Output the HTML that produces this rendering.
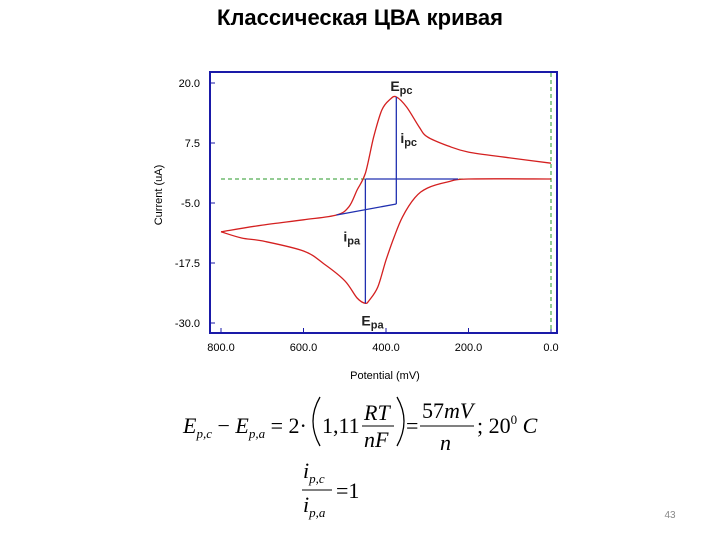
<!DOCTYPE html>
<html><head><meta charset="utf-8"><style>
body{margin:0;background:#fff;width:720px;height:540px;overflow:hidden;font-family:"Liberation Sans","Noto Sans CJK SC",sans-serif}
svg{position:absolute;left:0;top:0}
</style></head><body>
<svg id="chart" width="720" height="540">
<text x="360" y="25" text-anchor="middle" font-size="22" font-weight="bold">Классическая ЦВА кривая</text>
<rect x="210" y="72" width="347" height="261" fill="#fff" stroke="#1a1aa8" stroke-width="2"/>
<g id="ticks"></g>
<g id="marks"></g>
<text transform="translate(162,195) rotate(-90)" text-anchor="middle" font-size="11">Current (uA)</text>
<text x="385" y="379" text-anchor="middle" font-size="11">Potential (mV)</text>
<g font-family="Liberation Serif,serif" font-size="22">
<text x="183" y="433"><tspan font-style="italic">E</tspan><tspan font-size="13" dy="5" font-style="italic">p,c</tspan><tspan dy="-5"> − </tspan><tspan font-style="italic">E</tspan><tspan font-size="13" dy="5" font-style="italic">p,a</tspan><tspan dy="-5"> = 2·</tspan></text>
<path d="M320,397 Q306,421 320,446" fill="none" stroke="#000" stroke-width="1.3"/>
<text x="322" y="433">1,11</text>
<text x="364" y="420" font-style="italic">RT</text>
<line x1="362" y1="426" x2="394" y2="426" stroke="#000" stroke-width="1"/>
<text x="364" y="447" font-style="italic">nF</text>
<path d="M397,397 Q411,421 397,446" fill="none" stroke="#000" stroke-width="1.3"/>
<text x="406" y="433">=</text>
<text x="422" y="418">57<tspan font-style="italic">mV</tspan></text>
<line x1="420" y1="426" x2="474" y2="426" stroke="#000" stroke-width="1"/>
<text x="440" y="450" font-style="italic">n</text>
<text x="477" y="433">; 20<tspan font-size="13" dy="-9">0</tspan><tspan dy="9" font-style="italic"> C</tspan></text>
<text x="303" y="478" font-style="italic">i<tspan font-size="13" dy="5">p,c</tspan></text>
<line x1="302" y1="490" x2="332" y2="490" stroke="#000" stroke-width="1"/>
<text x="303" y="512" font-style="italic">i<tspan font-size="13" dy="5">p,a</tspan></text>
<text x="336" y="498">=1</text>
</g>
<text x="670" y="518" text-anchor="middle" font-size="10" fill="#888">43</text>
</svg>
<script>
const xTicks=[800,600,400,200,0];
const yTicks=[20,7.5,-5,-17.5,-30];
const xTickLabels=["800.0","600.0","400.0","200.0","0.0"];
const yTickLabels=["20.0","7.5","-5.0","-17.5","-30.0"];
const cathodicE=[800,700,600,520,490,470,450,430,410,390,375,350,320,300,250,200,100,0];
const cathodicI=[-11,-9.6,-8.5,-7.5,-5.8,-2.3,1.2,8.7,14.4,16.6,17.1,15,10.9,8.8,6.9,5.6,4.4,3.3];
const anodicE=[0,200,250,300,330,360,380,400,420,440,450,470,500,550,600,700,750,800];
const anodicI=[0,0,-0.6,-1.9,-3.9,-7.9,-12,-16.9,-22.5,-25.2,-25.9,-24.8,-21.2,-17.7,-15,-12.9,-12.3,-11];
const peakCE=375, peakCI=17.1, peakAE=450, peakAI=-25.9, baseStartE=520, baseStartI=-7.5, baseEndI=-5.2;
const X=v=>221+(800-v)*0.4125;
const Y=v=>83+(20-v)*4.8;
const NS="http://www.w3.org/2000/svg";
function mk(tag,attrs,parent){const e=document.createElementNS(NS,tag);for(const k in attrs)e.setAttribute(k,attrs[k]);parent.appendChild(e);return e;}
const tg=document.getElementById('ticks'), mg=document.getElementById('marks');
xTicks.forEach((v,i)=>{
 const l=mk('line',{x1:X(v),x2:X(v),y1:328,y2:333,stroke:'#1a1aa8'},tg);
 
 
 const t=mk('text',{x:X(v),y:351,'text-anchor':'middle','font-size':11},tg);t.textContent=xTickLabels[i];
 
 
});
yTicks.forEach((v,i)=>{
 const l=mk('line',{x1:210,x2:215,y1:Y(v),y2:Y(v),stroke:'#1a1aa8'},tg);
 
 
 const t=mk('text',{x:200,y:Y(v)+4,'text-anchor':'end','font-size':11},tg);t.textContent=yTickLabels[i];
 
 
});
let g1=mk('line',{x1:X(800),x2:X(0),y1:Y(0),y2:Y(0),stroke:'#2a9a2a','stroke-dasharray':'4,3'},mg);


let g2=mk('line',{x1:X(0),x2:X(0),y1:73,y2:332,stroke:'#2a9a2a','stroke-dasharray':'4,3'},mg);


function path(E,I){
 const p=E.map((e,i)=>[X(e),Y(I[i])]);
 let d='M'+p[0][0].toFixed(1)+','+p[0][1].toFixed(1);
 for(let i=0;i<p.length-1;i++){
  const p0=p[Math.max(0,i-1)],p1=p[i],p2=p[i+1],p3=p[Math.min(p.length-1,i+2)];
  const c1=[p1[0]+(p2[0]-p0[0])/6,p1[1]+(p2[1]-p0[1])/6];
  const c2=[p2[0]-(p3[0]-p1[0])/6,p2[1]-(p3[1]-p1[1])/6];
  d+=' C'+c1.map(n=>n.toFixed(1)).join(',')+' '+c2.map(n=>n.toFixed(1)).join(',')+' '+p2.map(n=>n.toFixed(1)).join(',');
 }
 return d;
}
let c1=mk('path',{d:path(cathodicE,cathodicI),fill:'none',stroke:'#d42020','stroke-width':1.3,'stroke-linejoin':'round'},mg);


let c2=mk('path',{d:path(anodicE,anodicI),fill:'none',stroke:'#d42020','stroke-width':1.3,'stroke-linejoin':'round'},mg);


const b='#2030b0';
let h=mk('line',{x1:X(peakAE),x2:X(225),y1:Y(0),y2:Y(0),stroke:b,'stroke-width':1.3},mg);


let bl=mk('line',{x1:X(baseStartE),y1:Y(baseStartI),x2:X(peakCE),y2:Y(baseEndI),stroke:b,'stroke-width':1.3},mg);


let v1=mk('line',{x1:X(peakCE),x2:X(peakCE),y1:Y(peakCI),y2:Y(baseEndI),stroke:b,'stroke-width':1.3},mg);


let v2=mk('line',{x1:X(peakAE),x2:X(peakAE),y1:Y(0),y2:Y(peakAI),stroke:b,'stroke-width':1.3},mg);


function lbl(txt,sub,x,y,name){const t=mk('text',{x:x,y:y,'font-size':14,'font-weight':'bold',fill:'#222'},mg);t.innerHTML=txt+'<tspan font-size="11" dy="3">'+sub+'</tspan>';
 
 }
lbl('E','pc',X(peakCE)-6,Y(peakCI)-6,'epc-label');
lbl('i','pc',X(peakCE)+4,Y(7.5),'ipc-label');
lbl('i','pa',X(peakAE)-22,Y(-13),'ipa-label');
lbl('E','pa',X(peakAE)-4,Y(peakAI)+22,'epa-label');
</script>
</body></html>
